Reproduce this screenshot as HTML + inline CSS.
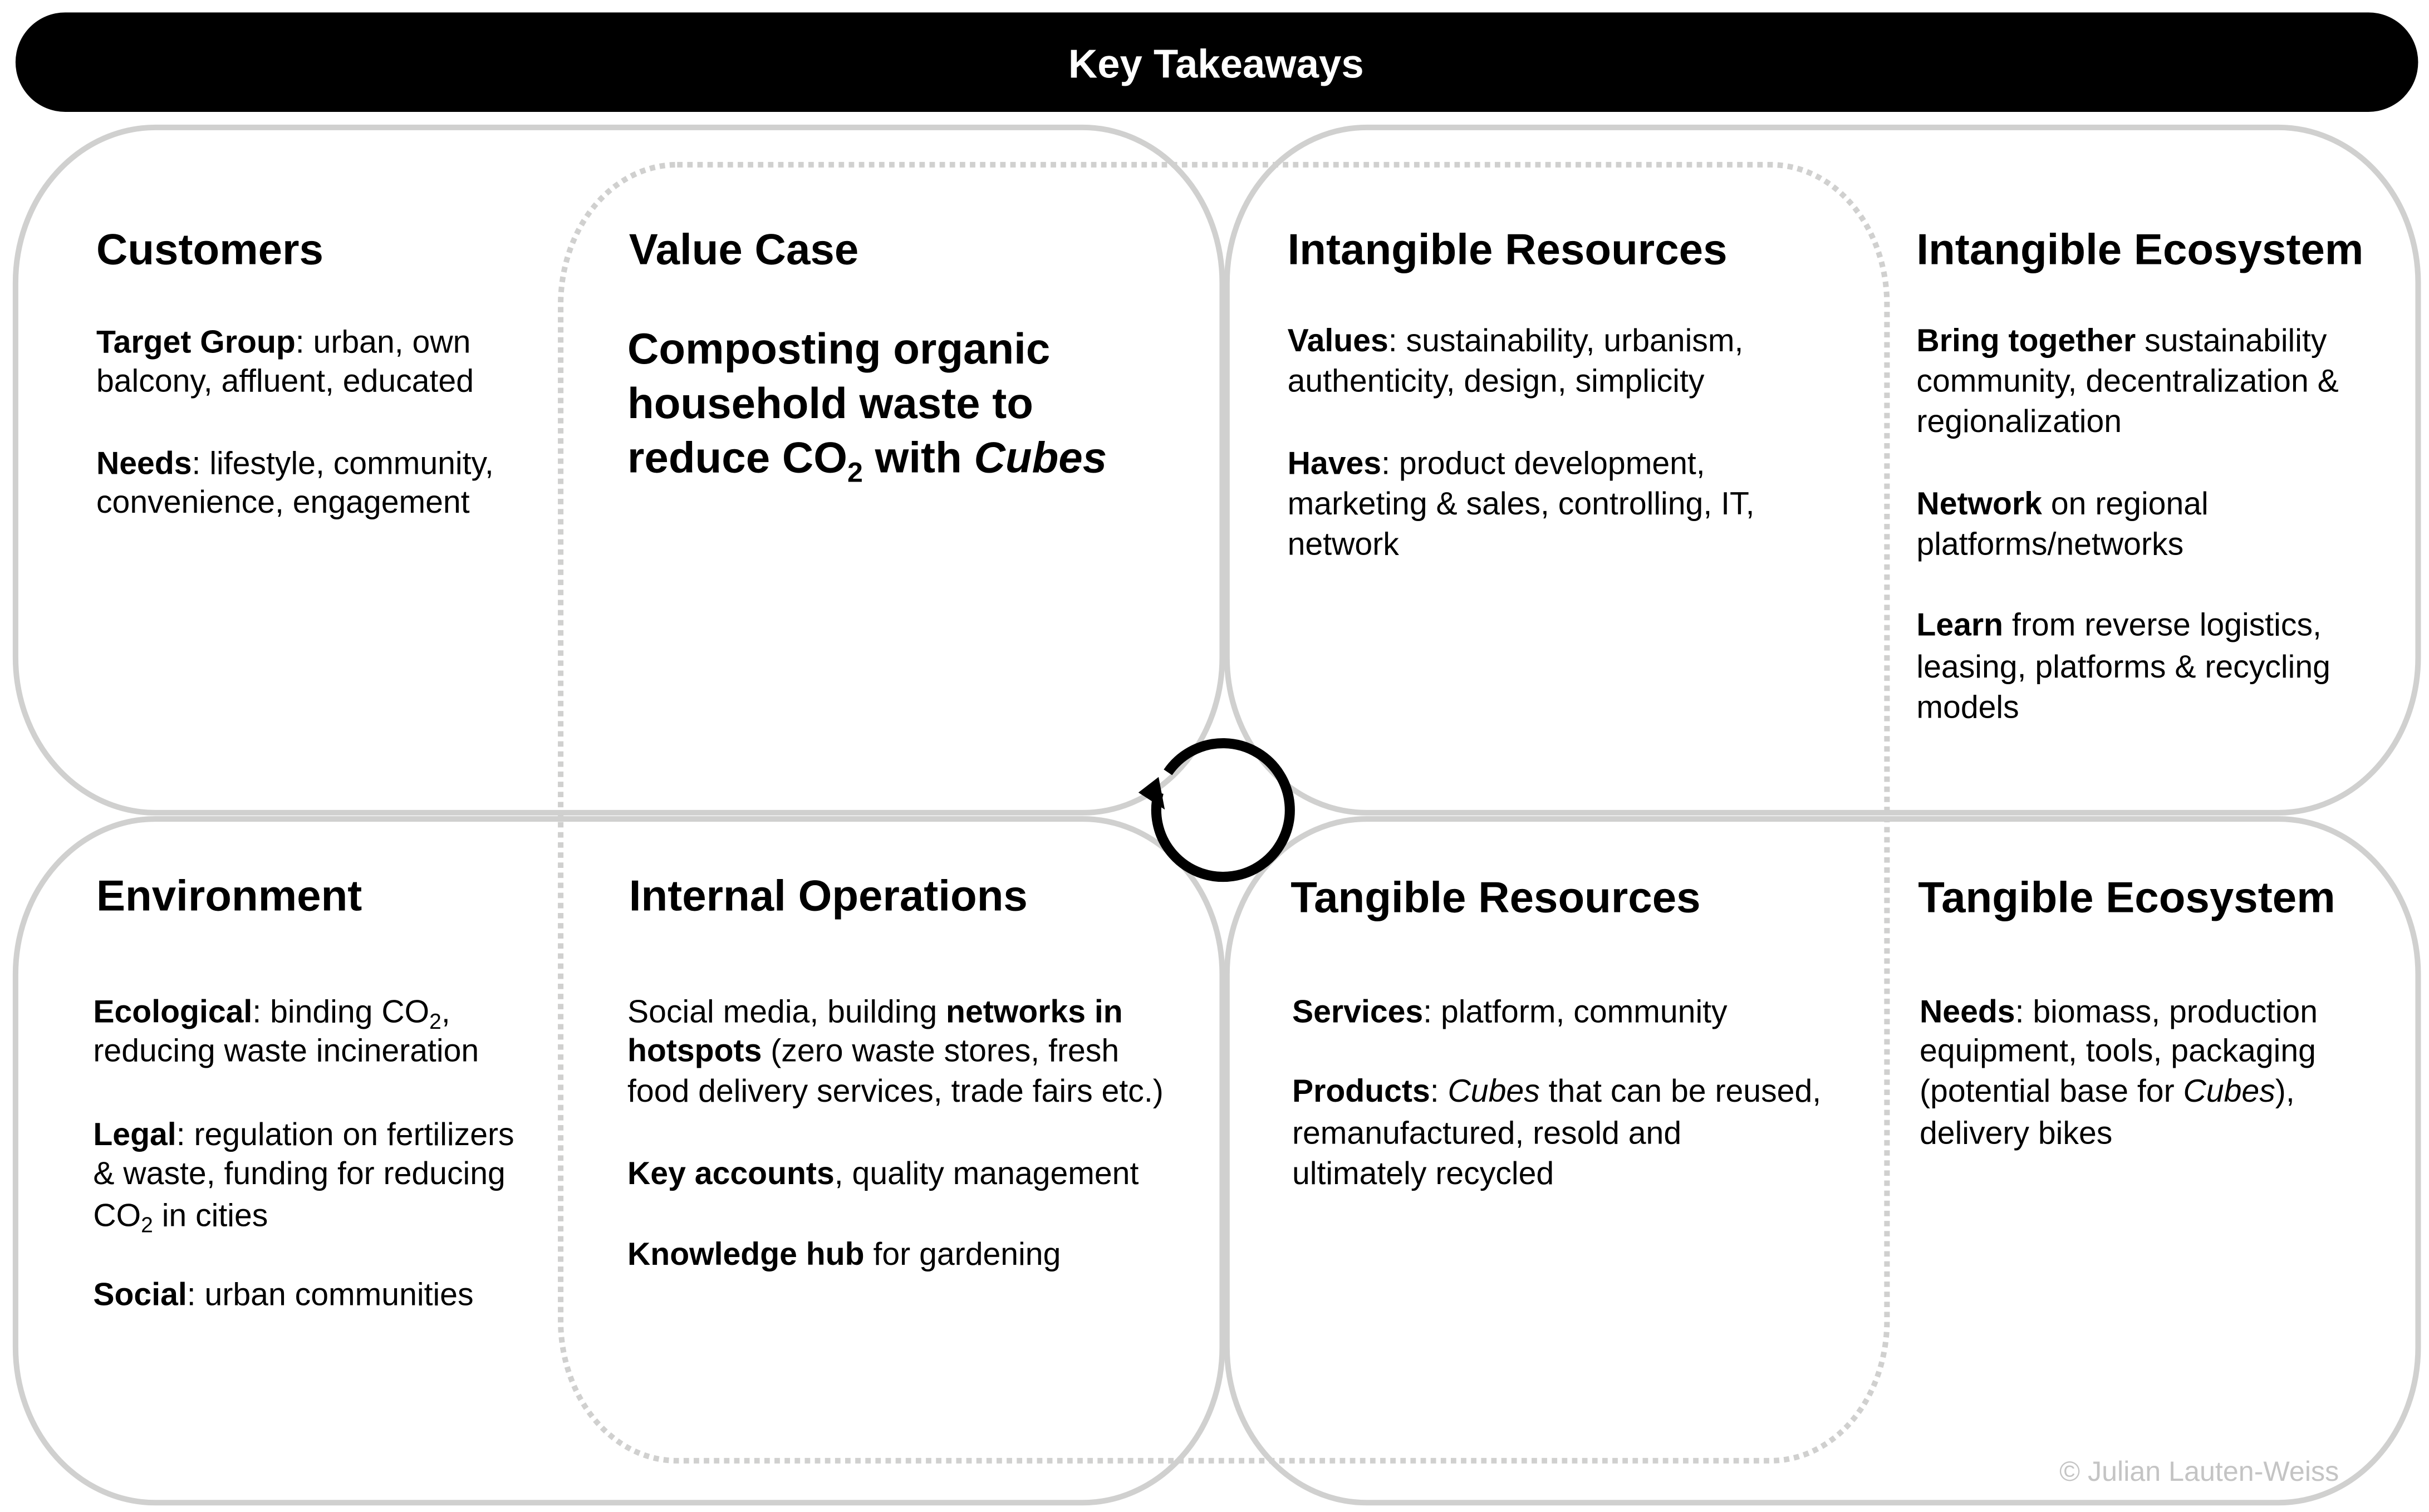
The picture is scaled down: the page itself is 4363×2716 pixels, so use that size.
<!DOCTYPE html>
<html><head><meta charset="utf-8"><style>
html,body{margin:0;padding:0;background:#fff}
svg{display:block}
text{font-family:"Liberation Sans",Arial,sans-serif;fill:#000}
.h{font-size:28px;font-weight:bold}
.b{font-size:20.5px}
.k{font-weight:bold}
</style></head><body>
<svg width="4363" height="2716" viewBox="0 0 1564 973" preserveAspectRatio="none" xmlns="http://www.w3.org/2000/svg">
<rect x="10" y="8" width="1547" height="64" rx="32" fill="#000"/>
<text x="783" y="50" text-anchor="middle" style="font-size:26px;font-weight:bold;fill:#fff">Key Takeaways</text>
<g fill="none" stroke="#d0d0cf" stroke-width="3.6">
<rect x="10" y="82" width="777" height="441" rx="90" ry="100"/>
<rect x="790" y="82" width="767" height="441" rx="90" ry="100"/>
<rect x="10" y="527" width="777" height="440" rx="90" ry="100"/>
<rect x="790" y="527" width="767" height="440" rx="90" ry="100"/>
<rect x="361" y="106" width="854" height="834" rx="75" ry="90" stroke-dasharray="3.5 3"/>
</g>
<g>
<path d="M 752 497 A 43 43 0 1 1 746 510" fill="none" stroke="##000" stroke-width="6.5" style="stroke:#000"/>
<path d="M 746 500 L 733 510 L 750 521 Z" fill="#000"/>
</g>
<text class="h" x="62" y="170">Customers</text>
<text class="b" x="62" y="227"><tspan class="k">Target Group</tspan>:  urban, own</text>
<text class="b" x="62" y="252">balcony, affluent, educated</text>
<text class="b" x="62" y="305"><tspan class="k">Needs</tspan>: lifestyle, community,</text>
<text class="b" x="62" y="330">convenience, engagement</text>

<text class="h" x="405" y="170">Value Case</text>
<text class="h" x="404" y="234">Composting organic</text>
<text class="h" x="404" y="269">household waste to</text>
<text class="h" x="404" y="304">reduce CO<tspan style="font-size:18px" dy="6">2</tspan><tspan dy="-6"> with </tspan><tspan font-style="italic">Cubes</tspan></text>

<text class="h" x="829" y="170">Intangible Resources</text>
<text class="b" x="829" y="226"><tspan class="k">Values</tspan>:  sustainability, urbanism,</text>
<text class="b" x="829" y="252">authenticity, design, simplicity</text>
<text class="b" x="829" y="305"><tspan class="k">Haves</tspan>: product development,</text>
<text class="b" x="829" y="331">marketing &amp; sales, controlling, IT,</text>
<text class="b" x="829" y="357">network</text>

<text class="h" x="1234" y="170">Intangible Ecosystem</text>
<text class="b" x="1234" y="226"><tspan class="k">Bring together</tspan> sustainability</text>
<text class="b" x="1234" y="252">community, decentralization &amp;</text>
<text class="b" x="1234" y="278">regionalization</text>
<text class="b" x="1234" y="331"><tspan class="k">Network</tspan> on regional</text>
<text class="b" x="1234" y="357">platforms/networks</text>
<text class="b" x="1234" y="409"><tspan class="k">Learn</tspan> from reverse logistics,</text>
<text class="b" x="1234" y="436">leasing, platforms &amp; recycling</text>
<text class="b" x="1234" y="462">models</text>

<text class="h" x="62" y="586">Environment</text>
<text class="b" x="60" y="658"><tspan class="k">Ecological</tspan>:  binding CO<tspan style="font-size:14px" dy="4">2</tspan><tspan dy="-4">,</tspan></text>
<text class="b" x="60" y="683">reducing waste incineration</text>
<text class="b" x="60" y="737"><tspan class="k">Legal</tspan>: regulation on fertilizers</text>
<text class="b" x="60" y="762">&amp; waste, funding for reducing</text>
<text class="b" x="60" y="789">CO<tspan style="font-size:14px" dy="4">2</tspan><tspan dy="-4"> in cities</tspan></text>
<text class="b" x="60" y="840"><tspan class="k">Social</tspan>: urban communities</text>

<text class="h" x="405" y="586">Internal Operations</text>
<text class="b" x="404" y="658">Social media, building <tspan class="k">networks in</tspan></text>
<text class="b" x="404" y="683"><tspan class="k">hotspots</tspan> (zero waste stores, fresh</text>
<text class="b" x="404" y="709">food delivery services, trade fairs etc.)</text>
<text class="b" x="404" y="762"><tspan class="k">Key accounts</tspan>,  quality management</text>
<text class="b" x="404" y="814"><tspan class="k">Knowledge  hub</tspan> for gardening</text>

<text class="h" x="831" y="587">Tangible Resources</text>
<text class="b" x="832" y="658"><tspan class="k">Services</tspan>: platform, community</text>
<text class="b" x="832" y="709"><tspan class="k">Products</tspan>:  <tspan font-style="italic">Cubes</tspan> that can be reused,</text>
<text class="b" x="832" y="736">remanufactured, resold and</text>
<text class="b" x="832" y="762">ultimately recycled</text>

<text class="h" x="1235" y="587">Tangible Ecosystem</text>
<text class="b" x="1236" y="658"><tspan class="k">Needs</tspan>: biomass, production</text>
<text class="b" x="1236" y="683">equipment, tools, packaging</text>
<text class="b" x="1236" y="709">(potential base for <tspan font-style="italic">Cubes</tspan>),</text>
<text class="b" x="1236" y="736">delivery bikes</text>

<text x="1506" y="953" text-anchor="end" style="font-size:18px;fill:#c4c4c4">© Julian Lauten-Weiss</text>
</svg>
</body></html>
